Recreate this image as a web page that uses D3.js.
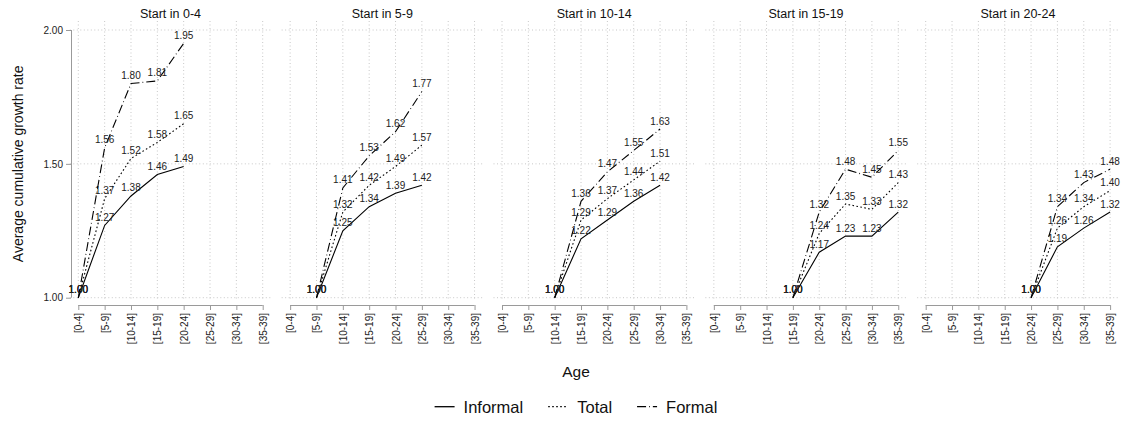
<!DOCTYPE html>
<html>
<head>
<meta charset="utf-8">
<script src="https://cdn.jsdelivr.net/npm/d3@7"></script>
<style>
  html, body { margin: 0; padding: 0; background: #fff; }
  svg { display: block; font-family: "Liberation Sans", Arial, Helvetica, sans-serif; }
</style>
</head>
<body>
<svg id="chart" width="1122" height="422"></svg>
<script>
// Age-group categories shared by every panel
const categories = ["[0-4]", "[5-9]", "[10-14]", "[15-19]", "[20-24]", "[25-29]", "[30-34]", "[35-39]"];
// One panel per starting age group
const panelTitles = ["Start in 0-4", "Start in 5-9", "Start in 10-14", "Start in 15-19", "Start in 20-24"];
const panelStart = ["[0-4]", "[5-9]", "[10-14]", "[15-19]", "[20-24]"];

// Average cumulative growth rate, one row per panel
const informal = [
  [1.00, 1.27, 1.38, 1.46, 1.49],
  [1.00, 1.25, 1.34, 1.39, 1.42],
  [1.00, 1.22, 1.29, 1.36, 1.42],
  [1.00, 1.17, 1.23, 1.23, 1.32],
  [1.00, 1.19, 1.26, 1.32]
];
const total = [
  [1.00, 1.37, 1.52, 1.58, 1.65],
  [1.00, 1.32, 1.42, 1.49, 1.57],
  [1.00, 1.29, 1.37, 1.44, 1.51],
  [1.00, 1.24, 1.35, 1.33, 1.43],
  [1.00, 1.26, 1.34, 1.40]
];
const formal = [
  [1.00, 1.56, 1.80, 1.81, 1.95],
  [1.00, 1.41, 1.53, 1.62, 1.77],
  [1.00, 1.36, 1.47, 1.55, 1.63],
  [1.00, 1.32, 1.48, 1.45, 1.55],
  [1.00, 1.34, 1.43, 1.48]
];
const yTicks = [1.00, 1.50, 2.00];
const seriesNames = ["Informal", "Total", "Formal"];

const seriesData = [informal, total, formal];
const dashes = [null, "1.6,2.4", "9,3,0.8,3"];

const svg = d3.select("#chart");

// Layout
const firstTickX = 78.3;
const panelStep = 211.85;
const tickSpan = 184.4;
const panelPad = 8.5;
const yTop = 30, yBottom = 297.7;
const axisY = 305;

const y = d3.scaleLinear().domain([1, 2]).range([yBottom, yTop]);

const gridColor = "#c8c8c8";
const axisColor = "#9a9a9a";

panelTitles.forEach((title, p) => {
  const x0 = firstTickX + p * panelStep;
  const x = d3.scalePoint().domain(categories).range([x0, x0 + tickSpan]);
  const g = svg.append("g");

  // horizontal grid
  g.selectAll("line.hgrid").data(yTicks).join("line")
    .attr("x1", x0 - panelPad).attr("x2", x0 + tickSpan + panelPad + 1)
    .attr("y1", d => y(d)).attr("y2", d => y(d))
    .attr("stroke", gridColor).attr("stroke-width", 1)
    .attr("stroke-dasharray", "1,2.5");

  // vertical grid
  g.selectAll("line.vgrid").data(categories).join("line")
    .attr("x1", d => x(d)).attr("x2", d => x(d))
    .attr("y1", 21).attr("y2", 300)
    .attr("stroke", gridColor).attr("stroke-width", 1)
    .attr("stroke-dasharray", "1,2.5");

  // x axis
  const xAxis = d3.axisBottom(x).tickSize(5).tickPadding(3);
  const ax = g.append("g").attr("transform", `translate(0,${axisY})`).call(xAxis);
  ax.select(".domain").attr("d", `M${x0},0.5H${x0 + tickSpan}`).attr("stroke", axisColor);
  ax.selectAll(".tick line").attr("stroke", axisColor);
  ax.selectAll(".tick text")
    .attr("font-size", 10).attr("fill", "#222")
    .attr("font-family", "Liberation Sans, Arial, sans-serif")
    .attr("transform", "rotate(-90)")
    .attr("text-anchor", "end")
    .attr("x", -8).attr("y", 0).attr("dy", "0.35em");

  // y axis only on the first panel
  if (p === 0) {
    const yAxis = d3.axisLeft(y).tickValues(yTicks).tickFormat(d3.format(".2f")).tickSize(5).tickPadding(3);
    const ay = g.append("g").attr("transform", "translate(71,0)").call(yAxis);
    ay.select(".domain").attr("d", `M0.5,${yTop}V${yBottom}`).attr("stroke", axisColor);
    ay.selectAll(".tick line").attr("stroke", axisColor);
    ay.selectAll(".tick text").attr("font-size", 10).attr("fill", "#222")
      .attr("font-family", "Liberation Sans, Arial, sans-serif");
  }

  // panel title
  g.append("text")
    .attr("x", x0 + tickSpan / 2).attr("y", 18)
    .attr("text-anchor", "middle")
    .attr("font-size", 12.5).attr("fill", "#111")
    .text(title);

  const startIdx = categories.indexOf(panelStart[p]);
  const line = d3.line().x(d => x(d.cat)).y(d => y(d.v));

  seriesData.forEach((series, s) => {
    const pts = series[p].map((v, i) => ({ cat: categories[startIdx + i], v }));
    g.append("path")
      .datum(pts)
      .attr("d", line)
      .attr("fill", "none")
      .attr("stroke", "#000")
      .attr("stroke-width", 1.1)
      .attr("stroke-dasharray", dashes[s]);
    g.selectAll(null).data(pts).join("text")
      .attr("x", d => x(d.cat)).attr("y", d => y(d.v) - 4.5)
      .attr("text-anchor", "middle")
      .attr("font-size", 10).attr("fill", "#222")
      .text(d => d3.format(".2f")(d.v));
  });
});

// Axis titles
svg.append("text")
  .attr("transform", `translate(23,${(yTop + yBottom) / 2}) rotate(-90)`)
  .attr("text-anchor", "middle")
  .attr("font-size", 14).attr("fill", "#111")
  .text("Average cumulative growth rate");

const legendCenter = 576;
svg.append("text")
  .attr("x", legendCenter).attr("y", 376.5)
  .attr("text-anchor", "middle")
  .attr("font-size", 15.5).attr("fill", "#111")
  .text("Age");

// Legend
const legend = svg.append("g");
const items = legend.selectAll("g").data(seriesNames).join("g");
items.append("line")
  .attr("x1", 0).attr("x2", 20).attr("y1", 0).attr("y2", 0)
  .attr("stroke", "#000").attr("stroke-width", 1.3)
  .attr("stroke-dasharray", (d, i) => dashes[i]);
items.append("text")
  .attr("x", 29).attr("y", 6.5)
  .attr("font-size", 16.5).attr("fill", "#111")
  .text(d => d);
let cursor = 0;
const itemGap = 25;
items.each(function () {
  const w = 29 + this.querySelector("text").getComputedTextLength();
  d3.select(this).attr("data-x", cursor);
  cursor += w + itemGap;
});
const legendWidth = cursor - itemGap;
items.attr("transform", function () {
  return `translate(${legendCenter - legendWidth / 2 + (+this.getAttribute("data-x"))},406.7)`;
});
</script>
</body>
</html>
